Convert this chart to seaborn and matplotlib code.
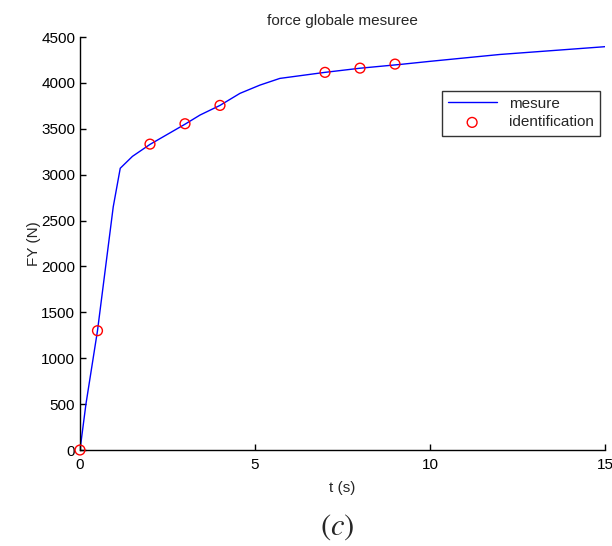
import numpy as np
import pandas as pd
import matplotlib
matplotlib.use("Agg")
import matplotlib.pyplot as plt
import seaborn as sns

t_mesure = [0, 0.17, 0.5, 0.95, 1.15, 1.5, 2, 3, 3.43, 4, 4.57, 5.14, 5.71, 7, 8, 9.14, 10, 12, 14.94, 15]
f_mesure = [0, 500, 1300, 2650, 3070, 3200, 3330, 3550, 3650, 3755, 3886, 3976, 4049, 4115, 4160, 4201, 4235, 4310, 4393, 4395]

# identified points
t_ident = [0, 0.5, 2, 3, 4, 7, 8, 9]
f_ident = [0, 1300, 3333, 3555, 3755, 4115, 4161, 4205]

x_ticks = [0, 5, 10, 15]
y_ticks = list(range(0, 4501, 500))


def main():

    sns.set_style("white")
    plt.rcParams['font.family'] = ['Liberation Sans', 'DejaVu Sans']
    plt.rcParams['mathtext.fontset'] = 'stix'

    mesure = pd.DataFrame({'t': t_mesure, 'F': f_mesure})
    ident = pd.DataFrame({'t': t_ident, 'F': f_ident})

    fig = plt.figure(figsize=(6.12, 5.46), dpi=100)
    ax = fig.add_axes([0.1307, 0.1758, 0.8579, 0.7564])

    sns.lineplot(data=mesure, x='t', y='F', ax=ax, color=(0, 0, 1),
                 linewidth=1, label='mesure')
    sns.scatterplot(data=ident, x='t', y='F', ax=ax, marker='o', s=50,
                    facecolors='none', edgecolor='red', linewidth=1,
                    label='identification', clip_on=False, zorder=3)

    ax.set_xlim(0, 15)
    ax.set_ylim(0, 4500)
    ax.set_xticks(x_ticks)
    ax.set_yticks(y_ticks)
    ax.tick_params(direction='in', length=4, width=1, labelsize=11,
                   colors='black', left=True, bottom=True)
    ax.tick_params(axis='x', pad=5.5)
    for side in ['top', 'right']:
        ax.spines[side].set_visible(False)
    for side in ['left', 'bottom']:
        ax.spines[side].set_color('black')
        ax.spines[side].set_linewidth(1)

    ax.set_xlabel('t (s)', fontsize=11, labelpad=7)
    ax.set_ylabel('FY (N)', fontsize=11, labelpad=0)
    ax.set_title('force globale mesuree', fontsize=11, pad=9)

    leg = ax.legend(loc='upper right', bbox_to_anchor=(0.99, 0.87),
                    fontsize=11, frameon=True, fancybox=False,
                    framealpha=1, edgecolor='#333333', handlelength=3.2,
                    borderaxespad=0, borderpad=0.4, labelspacing=0.3)
    leg.get_frame().set_linewidth(1)

    fig.text(0.551, 0.035, r'$(c)$', fontsize=22, ha='center', va='center')

    fig.savefig('out.png', dpi=100)


if __name__ == "__main__":
    main()
